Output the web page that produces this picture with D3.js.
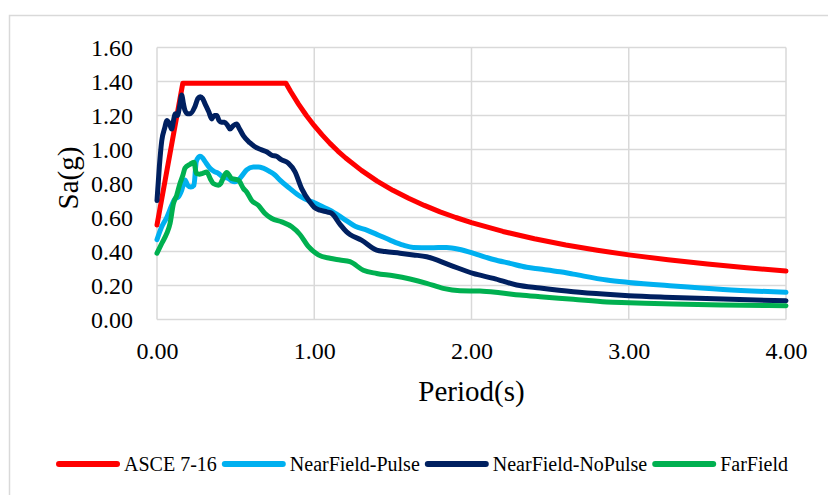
<!DOCTYPE html>
<html>
<head>
<meta charset="utf-8">
<script src="https://cdn.jsdelivr.net/npm/d3@7"></script>
<style>
  html, body { margin: 0; padding: 0; background: #fff; }
  svg { display: block; }
  svg text { font-family: "Liberation Serif", "Times New Roman", serif; fill: #000; }
</style>
</head>
<body>
<svg id="chart" width="828" height="495"></svg>
<script>
// Response spectra: design spectrum vs. mean spectra of three record sets
const seriesNames = ["ASCE 7-16", "NearField-Pulse", "NearField-NoPulse", "FarField"];
const seriesColors = ["#FF0000", "#00B0F0", "#002060", "#00B050"];

const periodAsce = [0, 0.164, 0.82, 0.85, 0.9, 0.95, 1.0, 1.05, 1.1, 1.15, 1.2, 1.3, 1.4, 1.5, 1.6, 1.7, 1.8, 1.9, 2.0, 2.2, 2.4, 2.6, 2.8, 3.0, 3.25, 3.5, 3.75, 4.0];
const saAsce = [0.556, 1.39, 1.39, 1.341, 1.267, 1.2, 1.14, 1.086, 1.036, 0.991, 0.95, 0.877, 0.814, 0.76, 0.713, 0.671, 0.633, 0.6, 0.57, 0.518, 0.475, 0.438, 0.407, 0.38, 0.351, 0.326, 0.304, 0.285];

const periodPulse = [0, 0.03, 0.062, 0.093, 0.114, 0.135, 0.157, 0.178, 0.195, 0.215, 0.235, 0.25, 0.273, 0.29, 0.305, 0.337, 0.365, 0.39, 0.41, 0.432, 0.454, 0.475, 0.496, 0.517, 0.54, 0.57, 0.612, 0.645, 0.676, 0.718, 0.75, 0.782, 0.846, 0.909, 0.962, 0.994, 1.037, 1.1, 1.185, 1.26, 1.334, 1.41, 1.482, 1.567, 1.63, 1.736, 1.842, 1.927, 2.033, 2.14, 2.245, 2.351, 2.436, 2.563, 2.647, 2.86, 3.0, 3.284, 3.6, 4.0];
const saPulse = [0.47, 0.545, 0.60, 0.67, 0.71, 0.72, 0.76, 0.82, 0.79, 0.78, 0.79, 0.93, 0.96, 0.95, 0.93, 0.89, 0.87, 0.86, 0.845, 0.835, 0.83, 0.815, 0.81, 0.82, 0.845, 0.88, 0.897, 0.897, 0.89, 0.87, 0.85, 0.82, 0.77, 0.725, 0.70, 0.69, 0.67, 0.643, 0.594, 0.549, 0.526, 0.496, 0.467, 0.437, 0.424, 0.422, 0.424, 0.412, 0.383, 0.353, 0.33, 0.307, 0.297, 0.281, 0.267, 0.232, 0.218, 0.197, 0.177, 0.16];

const periodNoPulse = [0, 0.015, 0.03, 0.05, 0.062, 0.08, 0.093, 0.105, 0.115, 0.13, 0.145, 0.157, 0.168, 0.178, 0.195, 0.21, 0.24, 0.26, 0.275, 0.29, 0.305, 0.33, 0.348, 0.365, 0.38, 0.395, 0.41, 0.43, 0.45, 0.464, 0.485, 0.507, 0.52, 0.55, 0.59, 0.634, 0.66, 0.70, 0.73, 0.76, 0.79, 0.835, 0.877, 0.92, 0.973, 1.0, 1.037, 1.08, 1.11, 1.164, 1.206, 1.227, 1.30, 1.397, 1.45, 1.545, 1.63, 1.715, 1.863, 2.01, 2.14, 2.287, 2.436, 2.647, 2.859, 3.0, 3.28, 3.6, 4.0];
const saNoPulse = [0.70, 0.90, 1.05, 1.13, 1.17, 1.15, 1.12, 1.17, 1.21, 1.20, 1.26, 1.32, 1.27, 1.23, 1.21, 1.21, 1.25, 1.30, 1.31, 1.30, 1.27, 1.22, 1.18, 1.20, 1.20, 1.17, 1.16, 1.16, 1.14, 1.12, 1.14, 1.15, 1.13, 1.08, 1.04, 1.01, 1.00, 0.985, 0.966, 0.96, 0.94, 0.92, 0.87, 0.77, 0.69, 0.66, 0.643, 0.633, 0.625, 0.56, 0.515, 0.50, 0.467, 0.408, 0.40, 0.39, 0.38, 0.369, 0.32, 0.271, 0.242, 0.203, 0.185, 0.163, 0.148, 0.14, 0.13, 0.12, 0.11];

const periodFar = [0, 0.03, 0.062, 0.083, 0.104, 0.125, 0.146, 0.165, 0.178, 0.21, 0.235, 0.25, 0.27, 0.29, 0.316, 0.338, 0.358, 0.39, 0.405, 0.422, 0.443, 0.475, 0.517, 0.55, 0.57, 0.602, 0.644, 0.687, 0.73, 0.793, 0.857, 0.909, 0.962, 1.026, 1.1, 1.164, 1.227, 1.312, 1.397, 1.503, 1.609, 1.715, 1.82, 1.927, 2.054, 2.181, 2.308, 2.436, 2.647, 2.86, 3.0, 3.284, 3.6, 4.0];
const saFar = [0.39, 0.447, 0.506, 0.565, 0.68, 0.73, 0.80, 0.85, 0.89, 0.913, 0.925, 0.86, 0.855, 0.86, 0.868, 0.83, 0.80, 0.79, 0.80, 0.835, 0.864, 0.829, 0.82, 0.77, 0.75, 0.70, 0.672, 0.624, 0.594, 0.574, 0.545, 0.50, 0.43, 0.38, 0.36, 0.35, 0.34, 0.29, 0.271, 0.257, 0.238, 0.213, 0.183, 0.169, 0.167, 0.157, 0.144, 0.134, 0.119, 0.103, 0.099, 0.091, 0.085, 0.081];

const xTicks = [0, 1, 2, 3, 4];
const yTicks = [0, 0.2, 0.4, 0.6, 0.8, 1.0, 1.2, 1.4, 1.6];
const xTitle = "Period(s)";
const yTitle = "Sa(g)";

const periods = [periodAsce, periodPulse, periodNoPulse, periodFar];
const values = [saAsce, saPulse, saNoPulse, saFar];
const series = seriesNames.map((name, i) => ({
  name,
  color: seriesColors[i],
  // the code spectrum is piecewise, so its corners stay sharp
  curve: i === 0 ? d3.curveLinear : d3.curveMonotoneX,
  points: periods[i].map((t, j) => [t, values[i][j]])
}));

const svg = d3.select("#chart");
const grid = "#d9d9d9";
const serif = '"Liberation Serif", "Times New Roman", serif';

// chart-area frame
svg.append("rect")
  .attr("x", 9.5).attr("y", 15.5)
  .attr("width", 840).attr("height", 500)
  .attr("fill", "none").attr("stroke", grid).attr("stroke-width", 1.5);

const plot = { left: 157, right: 786, top: 47.5, bottom: 319.5 };
const x = d3.scaleLinear().domain([0, 4]).range([plot.left, plot.right]);
const y = d3.scaleLinear().domain([0, 1.6]).range([plot.bottom, plot.top]);

// gridlines
svg.append("g").selectAll("line").data(yTicks).join("line")
  .attr("x1", plot.left).attr("x2", plot.right)
  .attr("y1", d => y(d)).attr("y2", d => y(d))
  .attr("stroke", grid).attr("stroke-width", 1.5);
svg.append("g").selectAll("line").data(xTicks).join("line")
  .attr("x1", d => x(d)).attr("x2", d => x(d))
  .attr("y1", plot.top).attr("y2", plot.bottom)
  .attr("stroke", grid).attr("stroke-width", 1.5);

// axes (labels only)
const fmt = d3.format(".2f");
const yAxis = svg.append("g")
  .attr("transform", `translate(${plot.left},0)`)
  .call(d3.axisLeft(y).tickValues(yTicks).tickFormat(fmt).tickSize(0).tickPadding(24));
const xAxis = svg.append("g")
  .attr("transform", `translate(0,${plot.bottom})`)
  .call(d3.axisBottom(x).tickValues(xTicks).tickFormat(fmt).tickSize(0).tickPadding(22));
[yAxis, xAxis].forEach(a => {
  a.attr("font-family", null).attr("font-size", null);
  a.select(".domain").remove();
  a.selectAll("text")
    .style("font-family", serif)
    .style("font-size", "24px").style("fill", "#000");
});

// axis titles
svg.append("text")
  .attr("transform", "translate(68,178) rotate(-90)")
  .attr("text-anchor", "middle").attr("dy", "0.35em")
  .style("font-family", serif).style("font-size", "29px")
  .text(yTitle);
svg.append("text")
  .attr("x", (plot.left + plot.right) / 2).attr("y", 401)
  .attr("text-anchor", "middle")
  .style("font-family", serif).style("font-size", "29px")
  .text(xTitle);

// spectra
svg.append("g").selectAll("path").data(series).join("path")
  .attr("d", d => d3.line().x(p => x(p[0])).y(p => y(p[1])).curve(d.curve)(d.points))
  .attr("fill", "none")
  .attr("stroke", d => d.color)
  .attr("stroke-width", 5)
  .attr("stroke-linejoin", "round")
  .attr("stroke-linecap", "round");

// legend, laid out left to right and centred
const legend = svg.append("g");
const legendY = 464;
const items = legend.selectAll("g").data(series).join("g");
items.append("line")
  .attr("x1", 0).attr("x2", 58)
  .attr("y1", legendY).attr("y2", legendY)
  .attr("stroke", d => d.color).attr("stroke-width", 6)
  .attr("stroke-linecap", "round");
items.append("text")
  .attr("x", 65).attr("y", legendY).attr("dy", "0.33em")
  .style("font-family", serif).style("font-size", "20px")
  .text(d => d.name);
let cursor = 0;
items.each(function() {
  const g = d3.select(this);
  g.attr("transform", `translate(${cursor},0)`);
  cursor += 65 + g.select("text").node().getComputedTextLength() + 8;
});
const total = cursor - 8;
legend.attr("transform", `translate(${423.5 - total / 2},0)`);
</script>
</body>
</html>
